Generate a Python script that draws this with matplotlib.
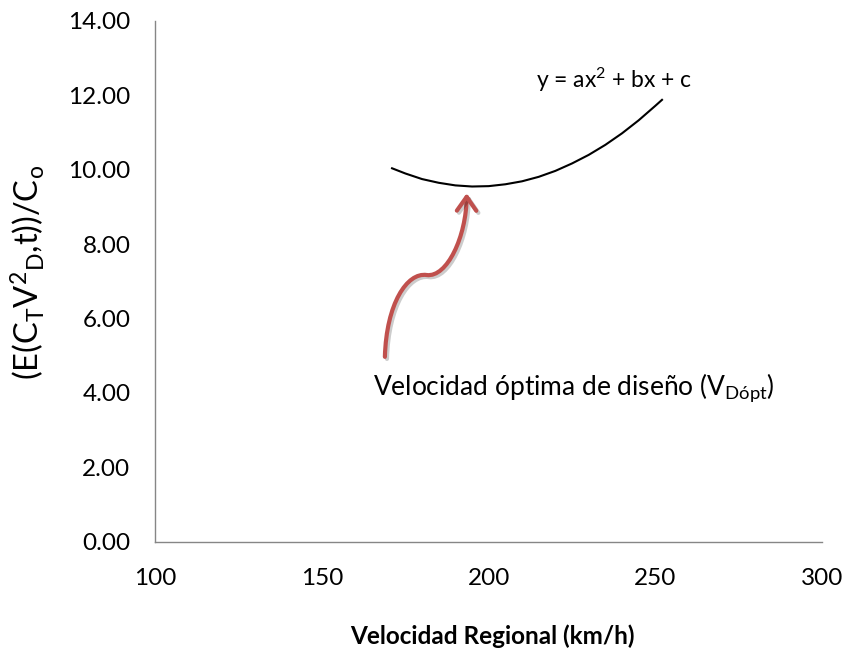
import numpy as np
import matplotlib.pyplot as plt
from matplotlib.patches import FancyArrowPatch
from matplotlib.path import Path
import matplotlib.patheffects as pe

plt.rcParams['font.family'] = ['Lato', 'DejaVu Sans']

# curva
velocidad = [171, 175, 180, 185, 190, 195, 200, 205, 210, 215, 220,
             225, 230, 235, 240, 245, 250, 252]
costo = [10.04, 9.90, 9.75, 9.65, 9.58, 9.55, 9.56, 9.61, 9.69, 9.81, 9.97,
         10.17, 10.40, 10.67, 10.98, 11.33, 11.72, 11.88]

xticks = [100, 150, 200, 250, 300]
yticks = [0, 2, 4, 6, 8, 10, 12, 14]

fig = plt.figure(figsize=(8.54, 6.5), dpi=100)
ax = fig.add_axes([0.182, 0.1666, 0.7805, 0.8011])

ax.plot(velocidad, costo, color='black', lw=1.5)

ax.set_xlim(100, 300)
ax.set_ylim(0, 14)
ax.set_xticks(xticks)
ax.set_yticks(yticks)
ax.set_yticklabels([f'{v:.2f}' for v in yticks])
ax.tick_params(axis='both', length=0, labelsize=17.5)
ax.tick_params(axis='x', pad=19)
ax.tick_params(axis='y', pad=18)

for s in ['top', 'right']:
    ax.spines[s].set_visible(False)
for s in ['left', 'bottom']:
    ax.spines[s].set_color('#868686')
    ax.spines[s].set_linewidth(1.0)

ax.set_xlabel('Velocidad Regional (km/h)', fontsize=17.5, fontweight='bold')
ax.xaxis.set_label_coords(0.5056, -0.158)
ax.set_ylabel(r'(E(C$\mathregular{_T}$V$\mathregular{^2}$$\mathregular{_D}$,t))/C$\mathregular{_o}$',
              fontsize=23.5)
ax.yaxis.set_label_coords(-0.163, 0.518)

# flecha curva
verts = [(168.85, 4.97), (169.3, 6.4), (175.5, 7.25), (181.4, 7.17),
         (187.5, 7.1), (193.3, 8.2), (193.4, 9.37)]
codes = [Path.MOVETO, Path.CURVE4, Path.CURVE4, Path.CURVE4,
         Path.CURVE4, Path.CURVE4, Path.CURVE4]
arrow = FancyArrowPatch(path=Path(verts, codes),
                        arrowstyle='->,head_length=10,head_width=7',
                        color='#C0504D', lw=3.0, capstyle='round', joinstyle='round',
                        path_effects=[pe.SimpleLineShadow(offset=(1.5, -1.5), alpha=0.2),
                                      pe.Normal()])
ax.add_patch(arrow)

ax.text(237.5, 12.41, r'y = ax$\mathregular{^2}$ + bx + c', fontsize=16.5, ha='center', va='center')
ax.text(165.2, 4.13, r'Velocidad óptima de diseño (V$\mathregular{_{Dópt}}$)',
        fontsize=19, ha='left', va='center')

fig.savefig('out.png', dpi=100)
